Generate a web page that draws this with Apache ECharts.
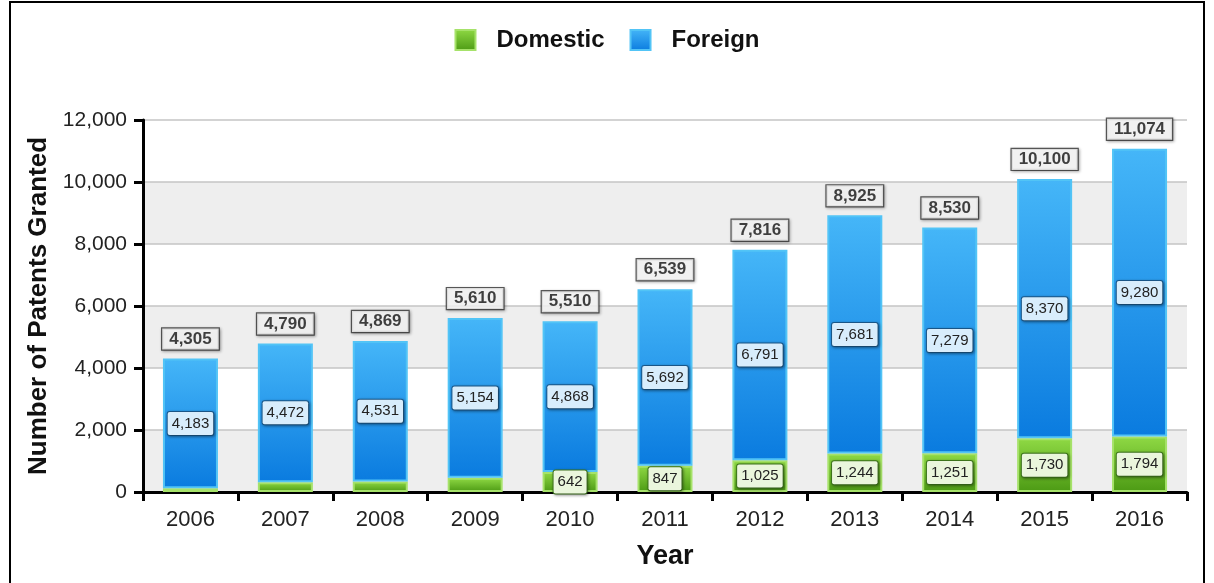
<!DOCTYPE html>
<html>
<head>
<meta charset="utf-8">
<script src="https://cdn.jsdelivr.net/npm/echarts@6/dist/echarts.min.js"></script>
<style>html,body{margin:0;padding:0;background:#fff}#c{width:1214px;height:583px}</style>
</head>
<body>
<div id="c"></div>
<script>
var years = ['2006','2007','2008','2009','2010','2011','2012','2013','2014','2015','2016'];
var domestic = [122, 318, 338, 456, 642, 847, 1025, 1244, 1251, 1730, 1794];
var foreign = [4183, 4472, 4531, 5154, 4868, 5692, 6791, 7681, 7279, 8370, 9280];
var totals = [4305, 4790, 4869, 5610, 5510, 6539, 7816, 8925, 8530, 10100, 11074];
var yTicks = [0, 2000, 4000, 6000, 8000, 10000, 12000];

var FONT = 'Arial, "Liberation Sans", sans-serif';
function fmt(v){ return Number(v).toLocaleString('en-US'); }
var chart = echarts.init(document.getElementById('c'));
var blueGrad = new echarts.graphic.LinearGradient(0,0,0,1,[{offset:0,color:'#45b6f8'},{offset:1,color:'#0a7bdf'}]);
var greenGrad = new echarts.graphic.LinearGradient(0,0,0,1,[{offset:0,color:'#8fd944'},{offset:1,color:'#4c9a14'}]);
var labelShadow = {shadowColor: 'rgba(0,0,0,0.35)', shadowBlur: 3, shadowOffsetX: 1, shadowOffsetY: 1};
var domesticData = domestic.map(function(v){ return {value: v, label: {show: v >= 600}}; });
chart.setOption({
  animation: false,
  textStyle: {fontFamily: FONT},
  graphic: [{type:'rect', shape:{x:10, y:2, width:1194, height:600}, style:{fill:'none', stroke:'#000', lineWidth:2}, z:100}],
  legend: {
    top: 23, left: 'center', itemWidth: 20, itemHeight: 20, itemGap: 25, icon: 'rect',
    textStyle: {fontSize: 24, fontWeight: 'bold', color: '#111', fontFamily: FONT, padding: [0, 0, 0, 16]},
    data: ['Domestic', 'Foreign']
  },
  grid: {left: 143, right: 27, top: 120, bottom: 91},
  xAxis: {
    type: 'category', data: years,
    name: 'Year', nameLocation: 'middle', nameGap: 51,
    nameTextStyle: {fontSize: 27, fontWeight: 'bold', color: '#111', fontFamily: FONT},
    axisLine: {lineStyle: {color: '#000', width: 3}},
    axisTick: {show: true, length: 9, lineStyle: {color: '#000', width: 3}},
    axisLabel: {fontSize: 22, color: '#222', margin: 17, fontFamily: FONT}
  },
  yAxis: {
    type: 'value', min: 0, max: 12000, interval: 2000,
    name: 'Number of Patents Granted', nameLocation: 'middle', nameGap: 87,
    nameTextStyle: {fontSize: 26, fontWeight: 'bold', color: '#111', fontFamily: FONT},
    axisLine: {show: true, lineStyle: {color: '#000', width: 3}},
    axisTick: {show: true, length: 9, lineStyle: {color: '#000', width: 3}},
    axisLabel: {fontSize: 21, color: '#222', margin: 16, fontFamily: FONT,
      formatter: function(v){ return yTicks.indexOf(v) >= 0 ? fmt(v) : ''; }},
    splitLine: {show: true, lineStyle: {color: '#c4c4c4', width: 1.5}},
    splitArea: {show: true, areaStyle: {color: ['#eeeeee', '#ffffff']}}
  },
  series: [
    {
      name: 'Domestic', type: 'bar', stack: 'a', barWidth: 55, data: domesticData,
      itemStyle: {color: greenGrad, borderColor: '#a6e26a', borderWidth: 2},
      label: Object.assign({position: 'inside', fontSize: 15, color: '#222', fontFamily: FONT,
        backgroundColor: '#eaf6dc', borderColor: '#3f7a1c', borderWidth: 1, borderRadius: 2,
        padding: [4, 4],
        formatter: function(p){ return fmt(p.value); }}, labelShadow)
    },
    {
      name: 'Foreign', type: 'bar', stack: 'a', barWidth: 55, data: foreign,
      itemStyle: {color: blueGrad, borderColor: '#52c4f6', borderWidth: 2},
      label: Object.assign({show: true, position: 'inside', fontSize: 15, color: '#222', fontFamily: FONT,
        backgroundColor: '#d8edfc', borderColor: '#1a5a8e', borderWidth: 1, borderRadius: 2,
        padding: [4, 4],
        formatter: function(p){ return fmt(p.value); }}, labelShadow)
    },
    {
      name: 'Total', type: 'scatter', symbolSize: 0, data: totals, silent: true,
      label: Object.assign({show: true, position: 'top', distance: 9, fontSize: 17, fontWeight: 'bold', color: '#111', fontFamily: FONT,
        backgroundColor: '#fff', borderColor: '#333', borderWidth: 1.2,
        padding: [2, 7],
        formatter: function(p){ return fmt(p.value); }}, labelShadow)
    }
  ]
});
</script>
</body>
</html>
